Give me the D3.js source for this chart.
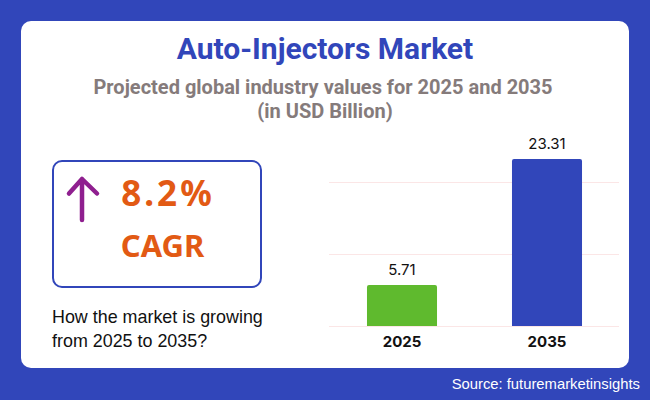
<!DOCTYPE html>
<html>
<head>
<meta charset="utf-8">
<script src="https://cdn.jsdelivr.net/npm/d3@7"></script>
<style>
  html, body { margin: 0; padding: 0; background: #3146ba; }
  svg { display: block; }
</style>
</head>
<body>
<svg id="chart" width="650" height="400"></svg>
<script>
let categories = ["2025", "2035"];
let marketValues = [5.71, 23.31];
let valueLabels = ["5.71", "23.31"];
let barColors = ["#5fba2e", "#3146ba"];
let gridValues = [0, 10, 20];

let svg = d3.select("#chart");

// white card
svg.append("rect").attr("x", 21).attr("y", 21).attr("width", 608).attr("height", 347).attr("rx", 10).attr("fill", "#ffffff");

svg.append("text").attr("x", 325).attr("y", 59).attr("text-anchor", "middle")
  .style("font", "bold 30px Roboto").attr("fill", "#3146ba").text("Auto-Injectors Market");
svg.append("text").attr("x", 323).attr("y", 94).attr("text-anchor", "middle")
  .style("font", "bold 20px Roboto").attr("fill", "#857b7b").text("Projected global industry values for 2025 and 2035");
svg.append("text").attr("x", 325).attr("y", 118).attr("text-anchor", "middle")
  .style("font", "bold 20px Roboto").attr("fill", "#857b7b").text("(in USD Billion)");

// CAGR box
svg.append("rect").attr("x", 53).attr("y", 161).attr("width", 208).attr("height", 126).attr("rx", 9)
  .attr("fill", "#fff").attr("stroke", "#3146ba").attr("stroke-width", 2);
svg.append("path").attr("d", "M82 220V179M69 193.500L82 179L97 193.500").attr("fill", "none")
  .attr("stroke", "#8f1f8f").attr("stroke-width", 4.5).attr("stroke-linecap", "round").attr("stroke-linejoin", "round");
svg.append("text").attr("x", 168).attr("y", 206).attr("text-anchor", "middle")
  .style("font", "bold 35px 'Noto Sans'").style("letter-spacing", "3px").attr("fill", "#e25a14").text("8.2%");
svg.append("text").attr("x", 162.500).attr("y", 257).attr("text-anchor", "middle")
  .style("font", "bold 31px 'Noto Sans'").attr("fill", "#e25a14").text("CAGR");

svg.append("text").attr("x", 52).attr("y", 323).style("font", "17.900px 'Liberation Sans'").attr("fill", "#111").text("How the market is growing");
svg.append("text").attr("x", 52).attr("y", 347).style("font", "17.900px 'Liberation Sans'").attr("fill", "#111").text("from 2025 to 2035?");

// chart
let x = d3.scaleBand().domain(categories).range([329.5, 619.5]).paddingInner(0.517).paddingOuter(0.2585);
let y = d3.scaleLinear().domain([0, 25]).range([326, 147]);

svg.append("g").selectAll("line").data(gridValues).enter().append("line")
  .attr("x1", 329).attr("x2", 619)
  .attr("y1", function(d){ return Math.floor(y(d)) + 0.5; })
  .attr("y2", function(d){ return Math.floor(y(d)) + 0.5; })
  .attr("stroke", "#fbe6e6");

svg.append("g").selectAll("path").data(categories).enter().append("path")
  .attr("d", function(d, i){
    let x0 = x(d), x1 = x0 + x.bandwidth(), y0 = y(marketValues[i]), y1 = y(0), r = 2;
    return "M" + x0 + " " + y1 + "V" + (y0 + r) + "Q" + x0 + " " + y0 + " " + (x0 + r) + " " + y0
      + "H" + (x1 - r) + "Q" + x1 + " " + y0 + " " + x1 + " " + (y0 + r) + "V" + y1 + "Z";
  })
  .attr("fill", function(d, i){ return barColors[i]; });

svg.append("g").selectAll("text").data(categories).enter().append("text")
  .attr("x", function(d){ return x(d) + x.bandwidth() / 2; })
  .attr("y", function(d, i){ return y(marketValues[i]) - 10; })
  .attr("text-anchor", "middle")
  .style("font", "15px Inter").attr("fill", "#111")
  .text(function(d, i){ return valueLabels[i]; });

svg.append("g").selectAll("text").data(categories).enter().append("text")
  .attr("x", function(d){ return x(d) + x.bandwidth() / 2; })
  .attr("y", 347)
  .attr("text-anchor", "middle")
  .style("font", "bold 15px Inter").attr("fill", "#111")
  .text(function(d){ return d; });

svg.append("text").attr("x", 640).attr("y", 389).attr("text-anchor", "end")
  .style("font", "14.800px 'Liberation Sans'").attr("fill", "#fff").text("Source: futuremarketinsights");
</script>
</body>
</html>
